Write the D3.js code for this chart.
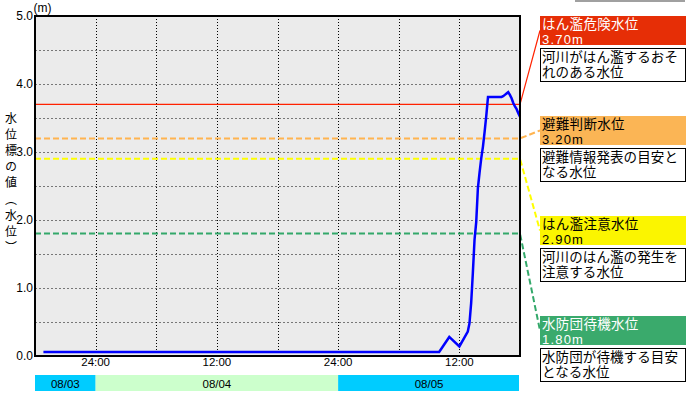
<!DOCTYPE html>
<html><head><meta charset="utf-8">
<script src="https://cdn.jsdelivr.net/npm/d3@7"></script>
<style>
html,body{margin:0;padding:0;background:#fff;}
svg{display:block;}
text{font-family:"Liberation Sans","DejaVu Sans",sans-serif;}
.jp{font-family:"Liberation Sans","Noto Sans CJK JP",sans-serif;}
.jpv{font-family:"Noto Sans CJK JP","Noto Sans",sans-serif;}
</style></head><body>
<svg id="c" width="694" height="397"></svg>
<script>
// ---- data ----
const times = ["2025-08-03 18:50","2025-08-05 10:00","2025-08-05 11:00","2025-08-05 12:00","2025-08-05 12:50",
  "2025-08-05 13:00","2025-08-05 13:10","2025-08-05 13:20","2025-08-05 13:30","2025-08-05 13:40","2025-08-05 13:50",
  "2025-08-05 14:00","2025-08-05 14:10","2025-08-05 14:20","2025-08-05 14:30","2025-08-05 14:40","2025-08-05 14:50",
  "2025-08-05 16:10","2025-08-05 16:20","2025-08-05 16:30","2025-08-05 16:40","2025-08-05 16:50","2025-08-05 17:00",
  "2025-08-05 17:10","2025-08-05 17:20","2025-08-05 17:30","2025-08-05 17:40","2025-08-05 17:50","2025-08-05 18:00"];
const levels = [0.06,0.06,0.28,0.14,0.36,
  0.48,0.78,1.22,1.71,1.97,2.47,
  2.70,2.91,3.08,3.30,3.54,3.81,
  3.81,3.82,3.84,3.86,3.88,3.84,
  3.79,3.72,3.67,3.63,3.57,3.52];
const yTicks = [0,1,2,3,4,5];
const yTickLabels = ["0.0","1.0","2.0","3.0","4.0","5.0"];
const dateLabels = ["08/03","08/04","08/05"];
const dateStarts = ["2025-08-03 18:00","2025-08-04 00:00","2025-08-05 00:00"];
const dateEnds = ["2025-08-04 00:00","2025-08-05 00:00","2025-08-05 18:00"];
const dateColors = ["#00ccff","#ccffcc","#00ccff"];
const thresholdNames = ["はん濫危険水位","避難判断水位","はん濫注意水位","水防団待機水位"];
const thresholdValues = [3.70,3.20,2.90,1.80];
const thresholdLabels = ["3.70m","3.20m","2.90m","1.80m"];
const thresholdDesc1 = ["河川がはん濫するおそ","避難情報発表の目安と","河川のはん濫の発生を","水防団が待機する目安"];
const thresholdDesc2 = ["れのある水位","なる水位","注意する水位","となる水位"];
const thresholdColors = ["#ff2200","#ffb450","#ffff00","#33a86a"];
const boxColors = ["#e62e06","#fbb555","#fbf500","#3aaa6c"];
const boxTextColors = ["#fff","#000","#000","#fff"];
const yTitle = "水位標の値（水位）";

// ---- layout ----
const parse = d3.timeParse("%Y-%m-%d %H:%M");
const L=35,R=520,T=16,B=356;
const x = d3.scaleTime().domain([parse("2025-08-03 18:00"),parse("2025-08-05 18:00")]).range([L,R]);
const y = d3.scaleLinear().domain([0,5]).range([B,T]);
const svg = d3.select("#c");

svg.append("rect").attr("x",575).attr("y",0).attr("width",110).attr("height",2).attr("fill","#a0a0a0");

svg.append("rect").attr("x",L).attr("y",T).attr("width",R-L).attr("height",B-T).attr("fill","#ebebeb");

// horizontal grid
const hg = d3.range(1,10).map(i=>i*0.5);
svg.append("g").selectAll("line").data(hg).join("line")
  .attr("x1",L).attr("x2",R).attr("y1",d=>Math.round(y(d))+0.5).attr("y2",d=>Math.round(y(d))+0.5)
  .attr("stroke","#777").attr("stroke-width",1).attr("stroke-dasharray","2,2");
// vertical grid
const vt = x.ticks(d3.timeHour.every(6)).filter(d=>x(d)>L+1&&x(d)<R-1);
svg.append("g").selectAll("line").data(vt).join("line")
  .attr("x1",d=>Math.round(x(d))+0.5).attr("x2",d=>Math.round(x(d))+0.5).attr("y1",T).attr("y2",B)
  .attr("stroke","#000").attr("stroke-width",1).attr("stroke-dasharray","1,2");

// thresholds + connectors
thresholdValues.forEach((v,i)=>{
  const yy = y(v);
  const top = 16 + i*100;
  const dash = i===0 ? null : "6,3";
  const sw = i===0 ? 1.2 : 2;
  svg.append("path")
    .attr("d", d3.line()([[L,yy],[R,yy],[540,top+14.5]]))
    .attr("fill","none").attr("stroke",thresholdColors[i]).attr("stroke-width",sw)
    .attr("stroke-dasharray",dash);
  svg.append("rect").attr("x",540).attr("y",top).attr("width",146).attr("height",29).attr("fill",boxColors[i]);
  svg.append("text").attr("class","jp").attr("x",542).attr("y",top+13).attr("font-size",13.5)
    .attr("letter-spacing",0.3).attr("fill",boxTextColors[i]).text(thresholdNames[i]);
  svg.append("text").attr("class","jp").attr("x",542).attr("y",top+28).attr("font-size",13)
    .attr("letter-spacing",1.2).attr("fill",boxTextColors[i]).text(thresholdLabels[i]);
  svg.append("rect").attr("x",540.5).attr("y",top+32.5).attr("width",145).attr("height",33)
    .attr("fill","#fff").attr("stroke","#000").attr("stroke-width",1);
  svg.append("text").attr("class","jp").attr("x",542).attr("y",top+45.5).attr("font-size",13.5)
    .attr("letter-spacing",0.1).text(thresholdDesc1[i]);
  svg.append("text").attr("class","jp").attr("x",542).attr("y",top+61).attr("font-size",13.5)
    .attr("letter-spacing",0.1).text(thresholdDesc2[i]);
});

// data line
const pts = times.map((t,i)=>[parse(t),levels[i]]);
svg.append("path").datum(pts)
  .attr("d", d3.line().x(d=>x(d[0])).y(d=>y(d[1])))
  .attr("fill","none").attr("stroke","#0000ff").attr("stroke-width",2.5).attr("stroke-linejoin","miter");

// frame
svg.append("rect").attr("x",L).attr("y",T).attr("width",R-L).attr("height",B-T)
  .attr("fill","none").attr("stroke","#000").attr("stroke-width",2);

// y axis labels
svg.append("g").selectAll("text").data(yTicks).join("text")
  .attr("x",33).attr("y",d=>y(d)+4).attr("text-anchor","end").attr("font-size",12)
  .text((d,i)=>yTickLabels[i]);
svg.append("text").attr("x",33.5).attr("y",11.5).attr("text-anchor","start").attr("font-size",12).text("(m)");
svg.append("text").attr("class","jpv").attr("x",11).attr("y",112).attr("font-size",12)
  .style("writing-mode","vertical-rl").attr("letter-spacing",4.2).text(yTitle);

// x labels
const xl = x.ticks(d3.timeHour.every(12)).filter(d=>x(d)>L+1&&x(d)<R-1);
svg.append("g").selectAll("text").data(xl).join("text")
  .attr("x",d=>x(d)).attr("y",366).attr("text-anchor","middle").attr("font-size",11.5)
  .text(d=>d.getHours()===0?"24:00":d3.timeFormat("%H:%M")(d));

// date bar
svg.append("g").selectAll("rect").data(dateLabels).join("rect")
  .attr("x",(d,i)=>x(parse(dateStarts[i]))).attr("y",375)
  .attr("width",(d,i)=>x(parse(dateEnds[i]))-x(parse(dateStarts[i]))-(i===2?1:0)).attr("height",16)
  .attr("fill",(d,i)=>dateColors[i]);
svg.append("g").selectAll("text").data(dateLabels).join("text")
  .attr("x",(d,i)=>(x(parse(dateStarts[i]))+x(parse(dateEnds[i])))/2).attr("y",387.5)
  .attr("text-anchor","middle").attr("font-size",11.5).text(d=>d);
</script>
</body></html>
